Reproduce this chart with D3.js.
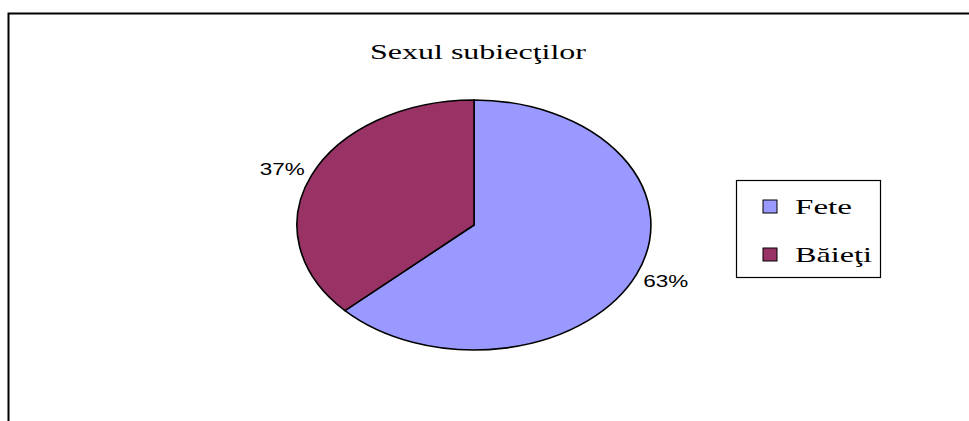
<!DOCTYPE html>
<html>
<head>
<script src="https://d3js.org/d3.v7.min.js"></script>
<style>
body { margin: 0; background: #fff; }
svg { display: block; }
</style>
</head>
<body>
<svg id="chart" width="969" height="421"></svg>
<script>
var categories = ["Fete", "Băieţi"];
var values = [63, 37];
var colors = ["#9999FF", "#993366"];
var title = "Sexul subiecţilor";

var svg = d3.select("#chart");

// outer frame (only top and left edges are in view)
svg.append("path")
  .attr("d", "M8.5,430V13.5H975")
  .attr("fill", "none")
  .attr("stroke", "#000")
  .attr("stroke-width", 2);

// text in the original is stretched sideways, so lengths are forced
svg.append("text")
  .attr("x", 478).attr("y", 59)
  .attr("text-anchor", "middle")
  .attr("textLength", 216)
  .attr("lengthAdjust", "spacingAndGlyphs")
  .style("font-family", "'Liberation Serif', 'Times New Roman', serif")
  .style("font-size", "22px")
  .text(title);

// pie drawn on a unit circle then stretched into an ellipse
var cx = 474, cy = 225, rx = 177, ry = 125;
var pie = d3.pie().sort(null).value(function(d) { return d; });
var arcs = pie(values);
var arc = d3.arc().innerRadius(0).outerRadius(1);

var g = svg.append("g")
  .attr("transform", "translate(" + cx + "," + cy + ") scale(" + rx + "," + ry + ")");

g.selectAll("path").data(arcs).enter().append("path")
  .attr("d", arc)
  .attr("fill", function(d, i) { return colors[i]; })
  .attr("stroke", "#000")
  .attr("stroke-width", 1.6)
  .attr("vector-effect", "non-scaling-stroke");

// percentage labels outside the ellipse
svg.selectAll("text.pct").data(arcs).enter().append("text")
  .attr("class", "pct")
  .attr("x", function(d) {
    var a = (d.startAngle + d.endAngle) / 2;
    return cx + Math.sin(a) * rx * 1.18;
  })
  .attr("y", function(d) {
    var a = (d.startAngle + d.endAngle) / 2;
    return cy - Math.cos(a) * ry * 1.12 + 6;
  })
  .attr("text-anchor", "middle")
  .attr("textLength", 45)
  .attr("lengthAdjust", "spacingAndGlyphs")
  .style("font-family", "'Liberation Sans', Arial, sans-serif")
  .style("font-size", "16px")
  .text(function(d) { return Math.round(d.value / d3.sum(values) * 100) + "%"; });

// legend
var legend = svg.append("g").attr("transform", "translate(736,180)");
legend.append("rect")
  .attr("x", 0.5).attr("y", 0.5)
  .attr("width", 144).attr("height", 97)
  .attr("fill", "#fff")
  .attr("stroke", "#000")
  .attr("stroke-width", 1.2);

var ly = d3.scalePoint().domain(categories).range([26, 74]);
var legendWidths = [57, 77];

var item = legend.selectAll("g.item").data(categories).enter().append("g")
  .attr("class", "item")
  .attr("transform", function(d) { return "translate(0," + ly(d) + ")"; });

item.append("rect")
  .attr("x", 27).attr("y", -6)
  .attr("width", 14).attr("height", 13)
  .attr("fill", function(d, i) { return colors[i]; })
  .attr("stroke", "#000")
  .attr("stroke-width", 1);

item.append("text")
  .attr("x", 59).attr("y", 8)
  .attr("textLength", function(d, i) { return legendWidths[i]; })
  .attr("lengthAdjust", "spacingAndGlyphs")
  .style("font-family", "'Liberation Serif', 'Times New Roman', serif")
  .style("font-size", "22px")
  .text(function(d) { return d; });
</script>
</body>
</html>
